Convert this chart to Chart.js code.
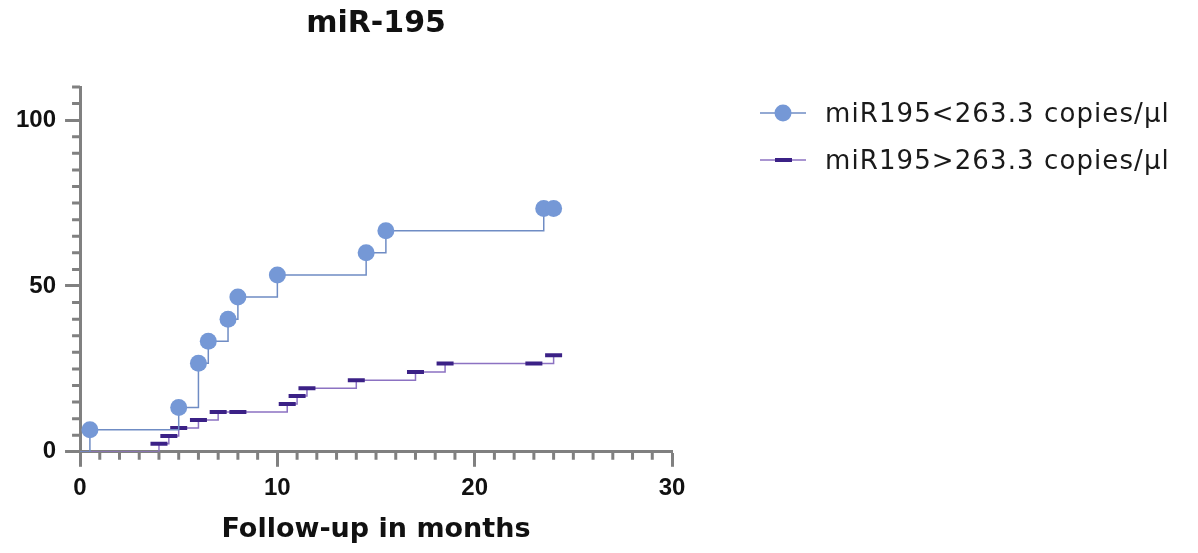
<!DOCTYPE html>
<html>
<head>
<meta charset="utf-8">
<script src="https://cdn.jsdelivr.net/npm/chart.js@4.4.1/dist/chart.umd.min.js"></script>
<style>
  html, body { margin: 0; padding: 0; background: #fff; }
  #wrap { position: relative; width: 1198px; height: 553px; }
  #legend { position: absolute; left: 756px; top: 89px; font-family: 'DejaVu Sans'; font-size: 26px; letter-spacing: 1.1px; color: #1a1a1a; }
  #legend .row { display: flex; align-items: center; height: 47px; white-space: nowrap; }
  #legend canvas { margin-right: 13px; }
</style>
</head>
<body>
<div id="wrap">
  <canvas id="myChart" width="1198" height="553"></canvas>
  <div id="legend"></div>
</div>
<script>
// Cumulative incidence (months, %)
var lowLabel = 'miR195\u003c263.3 copies/\u03bcl';
var lowMonths = [0, 0.5, 5, 6, 6.5, 7.5, 8, 10, 14.5, 15.5, 23.5, 24];
var lowValues = [0, 6.67, 13.33, 26.67, 33.33, 40, 46.67, 53.33, 60, 66.67, 73.33, 73.33];

var highLabel = 'miR195\u003e263.3 copies/\u03bcl';
var highMonths = [0, 4, 4.5, 5, 6, 7, 8, 10.5, 11, 11.5, 14, 17, 18.5, 23, 24];
var highValues = [0, 2.4, 4.8, 7.2, 9.6, 12.0, 12.0, 14.4, 16.8, 19.2, 21.6, 24.1, 26.6, 26.6, 29.1];

var xTicks = [0, 10, 20, 30];
var yTicks = [0, 50, 100];

var axisGrey = '#808080';
var blueLine = '#6f8cc4';
var blueDot = '#7598d6';
var purpleLine = '#8c72c2';
var purpleDash = '#3b2186';

function toPoints(xs, ys) {
    var out = [];
    for (var i = 0; i < xs.length; i++) {
        out.push({ x: xs[i], y: ys[i] });
    }
    return out;
}

// small swatches for the legend: line with the marker on it
function makeSwatch(kind) {
    var c = document.createElement('canvas');
    c.width = 56;
    c.height = 20;
    var g = c.getContext('2d');
    g.lineWidth = 1.5;
    g.strokeStyle = kind === 'dot' ? blueLine : purpleLine;
    g.beginPath();
    g.moveTo(4, 10);
    g.lineTo(50, 10);
    g.stroke();
    if (kind === 'dot') {
        g.fillStyle = blueDot;
        g.beginPath();
        g.arc(27, 10, 8.5, 0, Math.PI * 2);
        g.fill();
    } else {
        g.fillStyle = purpleDash;
        g.fillRect(19, 8, 17, 4);
    }
    return c;
}

// minor ticks (1 month, 5 %) drawn off the chart's own scales
var minorTicks = {
    id: 'minorTicks',
    afterDraw: function (chart) {
        var ctx = chart.ctx;
        var xs = chart.scales.x;
        var ys = chart.scales.y;
        ctx.save();
        ctx.strokeStyle = axisGrey;
        ctx.lineWidth = 3;
        ctx.beginPath();
        for (var m = 1; m < 30; m++) {
            if (m % 10 === 0) continue;
            var px = xs.getPixelForValue(m);
            ctx.moveTo(px, ys.bottom);
            ctx.lineTo(px, ys.bottom + 8);
        }
        for (var v = 5; v <= 110; v += 5) {
            if (v % 50 === 0) continue;
            var py = ys.getPixelForValue(v);
            ctx.moveTo(xs.left - 8, py);
            ctx.lineTo(xs.left, py);
        }
        ctx.stroke();
        ctx.restore();
    }
};

var ctx = document.getElementById('myChart').getContext('2d');
var myChart = new Chart(ctx, {
    type: 'scatter',
    data: {
        datasets: [
            {
                label: lowLabel,
                data: toPoints(lowMonths, lowValues),
                showLine: true,
                stepped: 'before',
                borderColor: blueLine,
                borderWidth: 1.5,
                backgroundColor: blueDot,
                pointBackgroundColor: blueDot,
                pointBorderWidth: 0,
                pointStyle: 'circle',
                pointRadius: function (c) { return c.dataIndex === 0 ? 0 : 8.5; }
            },
            {
                label: highLabel,
                data: toPoints(highMonths, highValues),
                showLine: true,
                stepped: 'before',
                borderColor: purpleLine,
                borderWidth: 1.5,
                pointStyle: 'line',
                pointBorderColor: purpleDash,
                pointBorderWidth: 4,
                pointRadius: function (c) { return c.dataIndex === 0 ? 0 : 8.5; }
            }
        ]
    },
    options: {
        responsive: false,
        animation: false,
        layout: { padding: { left: 7, right: 526, top: 0, bottom: 3 } },
        scales: {
            x: {
                type: 'linear',
                min: 0,
                max: 30,
                border: { color: axisGrey, width: 3 },
                grid: { drawOnChartArea: false, tickLength: 15, tickColor: axisGrey, tickWidth: 3 },
                afterBuildTicks: function (s) {
                    s.ticks = xTicks.map(function (v) { return { value: v }; });
                },
                ticks: {
                    padding: 7,
                    color: '#111',
                    font: { family: 'Liberation Sans', weight: 'bold', size: 24 }
                },
                title: {
                    display: true,
                    text: 'Follow-up in months',
                    color: '#111',
                    padding: { top: 4, bottom: 4 },
                    font: { family: 'DejaVu Sans', weight: 'bold', size: 27 }
                }
            },
            y: {
                type: 'linear',
                min: 0,
                max: 110,
                border: { color: axisGrey, width: 3 },
                grid: { drawOnChartArea: false, tickLength: 15, tickColor: axisGrey, tickWidth: 3 },
                afterBuildTicks: function (s) {
                    s.ticks = yTicks.map(function (v) { return { value: v }; });
                },
                ticks: {
                    padding: 9,
                    color: '#111',
                    font: { family: 'Liberation Sans', weight: 'bold', size: 24 }
                }
            }
        },
        plugins: {
            title: {
                display: true,
                text: 'miR-195',
                fullSize: false,
                color: '#111',
                padding: { top: 6, bottom: 45 },
                font: { family: 'DejaVu Sans', weight: 'bold', size: 30 }
            },
            legend: { display: false },
            tooltip: { enabled: false }
        }
    },
    plugins: [minorTicks]
});

// legend built from the chart's datasets
var legendBox = document.getElementById('legend');
myChart.data.datasets.forEach(function (ds, i) {
    var row = document.createElement('div');
    row.className = 'row';
    row.appendChild(makeSwatch(i === 0 ? 'dot' : 'dash'));
    var label = document.createElement('span');
    label.textContent = ds.label;
    row.appendChild(label);
    legendBox.appendChild(row);
});
</script>
</body>
</html>
